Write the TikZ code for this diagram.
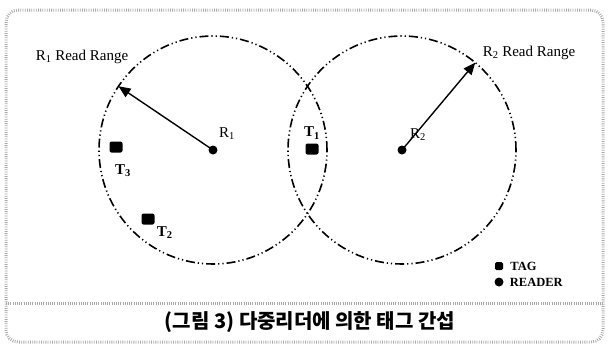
\documentclass[tikz,border=0pt]{standalone}
\usepackage{fontspec}
\setmainfont{Liberation Serif}
\newfontfamily\cjk{Noto Sans CJK KR}
\usetikzlibrary{positioning, arrows.meta, calc}
\definecolor{stipple}{HTML}{A8A8A8}

\begin{document}
\begin{tikzpicture}[x=1pt, y=-1pt,
        readrange/.style={line width=1.6pt, dash pattern=on 9pt off 3pt on 1.2pt off 3pt on 1.2pt off 3pt},
        reader/.style={circle, fill=black, inner sep=0pt, minimum size=9pt},
        tagbox/.style={rectangle, rounded corners=2pt, fill=black, inner sep=0pt, minimum width=13pt, minimum height=11pt},
        lbl/.style={font=\fontsize{15}{15}\selectfont, inner sep=0pt},
        tlbl/.style={font=\bfseries\fontsize{15}{15}\selectfont, inner sep=0pt},
        lgd/.style={font=\bfseries\fontsize{12.5}{12.5}\selectfont, inner sep=0pt, anchor=west},
        ray/.style={line width=1.4pt, -{Triangle[length=12pt, width=10pt]}},
        stip/.style={stipple, line width=3pt, dash pattern=on 0.8pt off 1.4pt}]
      \useasboundingbox (0,0) rectangle (611,349);
      % frame
      \draw[stip, rounded corners=12pt] (6,10) rectangle (603,342);
      \draw[stip] (6,303) -- (603,303);
      % readers and ranges
      \node[reader] (R1) at (213,150) {};
      \node[reader] (R2) at (402,150) {};
      \draw[readrange] (R1.center) circle[radius=114pt];
      \draw[readrange] (R2.center) circle[radius=114pt];
      \coordinate (e1) at ($(R1.center)+(146:114pt)$);
      \coordinate (e2) at ($(R2.center)+(50:114pt)$);
      \draw[ray] (R1.center) -- (e1);
      \draw[ray] (R2.center) -- (e2);
      \node[lbl] (r1range) at (82,57) {R\textsubscript{1} Read Range};
      \node[lbl] (r2range) at (529,53) {R\textsubscript{2} Read Range};
      \node[lbl] (r1) at (227,134) {R\textsubscript{1}};
      \node[lbl] (r2) at (418,135) {R\textsubscript{2}};
      % tags
      \node[tagbox] (t1) at (312,149) {};
      \node[tagbox] (t2) at (148,219) {};
      \node[tagbox] (t3) at (116,147) {};
      \node[tlbl, above=4pt of t1] (t1l) {T\textsubscript{1}};
      \node[tlbl, below right=2pt and 2pt of t2] (t2l) {T\textsubscript{2}};
      \node[tlbl, below=12pt of t3, xshift=7pt] (t3l) {T\textsubscript{3}};
      % legend
      \node[tagbox, minimum width=8pt, minimum height=8pt, rounded corners=1.5pt] (ktag) at (499,266) {};
      \node[reader] (krd) at (499,282) {};
      \node[lgd, right=7pt of ktag] (ktagl) {TAG};
      \node[lgd, right=6pt of krd] (krdl) {READER};
      % caption
      \node[font=\cjk\bfseries\fontsize{20}{20}\selectfont, inner sep=0pt] (cap) at (310,322) {(그림 3) 다중리더에 의한 태그 간섭};
    \end{tikzpicture}
\end{document}
